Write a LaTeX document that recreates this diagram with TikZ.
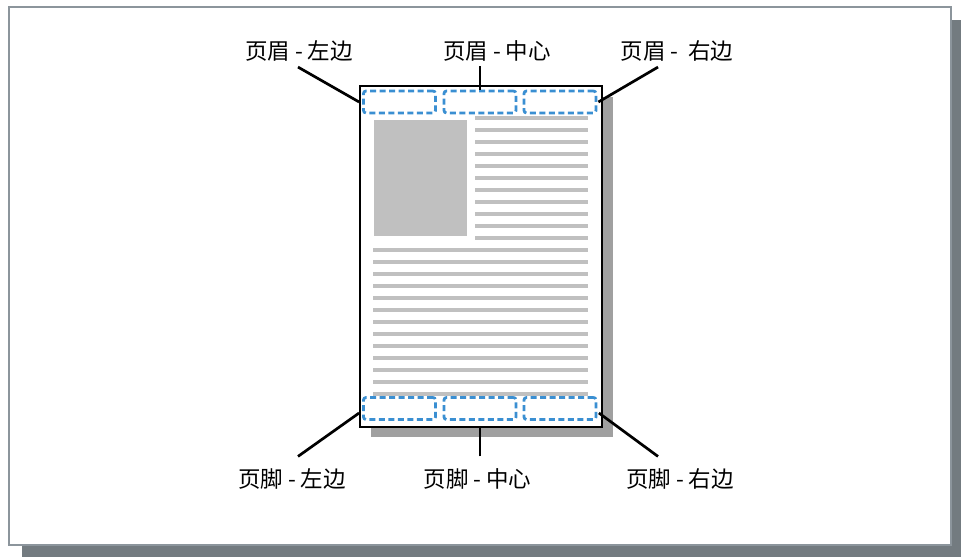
\documentclass[tikz,border=0pt]{standalone}
\usepackage{fontspec}
\setmainfont{Noto Sans CJK SC}
\usepackage{tikz}
\usetikzlibrary{positioning}
\definecolor{framegray}{HTML}{8C959C}
\definecolor{frameshadow}{HTML}{737B80}
\definecolor{pageshadow}{HTML}{A0A0A0}
\definecolor{textgray}{HTML}{C0C0C0}
\definecolor{slotblue}{HTML}{3A8FD2}

\begin{document}
\begin{tikzpicture}[x=1pt,y=-1pt,
    lbl/.style={font=\fontsize{22.5}{26}\selectfont, inner sep=0pt},
    slot/.style={draw=slotblue, line width=2.8pt, dash pattern=on 6pt off 3.5pt, rounded corners=2.5pt, fill=white, minimum width=72pt, minimum height=22pt, inner sep=0pt},
    leader/.style={line width=2.7pt, black},
    textline/.style={textgray, line width=3.6pt}]
        \useasboundingbox (0,0) rectangle (961,557);
        % outer frame with its shadow
        \fill[frameshadow] (22,20) rectangle (961,557);
        \draw[framegray, line width=2.6pt, fill=white] (9,7) rectangle (951,545);
        % the page
        \fill[pageshadow] (371,97) rectangle (613,437);
        \draw[line width=1.8pt, fill=white] (360,86) rectangle (602,427);
        \fill[textgray] (374,120) rectangle (467,236);
        \foreach \k in {0,...,10}
            \draw[textline] (475,118+12*\k) -- (588,118+12*\k);
        \foreach \k in {0,...,12}
            \draw[textline] (373,250+12*\k) -- (588,250+12*\k);
        % header and footer slots
        \node[slot] (hl) at (399.5,102) {};
        \node[slot] (hc) at (480,102) {};
        \node[slot] (hr) at (560,102) {};
        \node[slot] (fl) at (399.5,408.5) {};
        \node[slot] (fc) at (480,408.5) {};
        \node[slot] (fr) at (560,408.5) {};
        % label the slots
        \node[lbl] (lhl) at (299,50.5) {页眉 - 左边};
        \node[lbl] (lhc) at (497,50.5) {页眉 - 中心};
        \node[lbl] (lhr) at (677,50.5) {页眉 - \ 右边};
        \node[lbl] (lfl) at (292,479) {页脚 - 左边};
        \node[lbl] (lfc) at (477.5,479) {页脚 - 中心};
        \node[lbl] (lfr) at (680,479) {页脚 - 右边};
        % leader lines
        \draw[leader] ([xshift=-1pt,yshift=-6pt]lhl.south) -- ([xshift=-3pt]hl.west);
        \draw[leader] ([xshift=-17pt,yshift=-5pt]lhc.south) -- (hc.north);
        \draw[leader] ([xshift=-19pt,yshift=-6pt]lhr.south) -- ([xshift=1pt]hr.east);
        \draw[leader] ([xshift=6pt,yshift=12pt]lfl.north) -- ([xshift=-3pt,yshift=-4.5pt]fl.west);
        \draw[leader, shorten >=7pt] ([xshift=2.5pt,yshift=12pt]lfc.north) -- (fc.south);
        \draw[leader] ([xshift=-22pt,yshift=12pt]lfr.north) -- ([xshift=1.5pt,yshift=-4.5pt]fr.east);
\end{tikzpicture}
\end{document}
